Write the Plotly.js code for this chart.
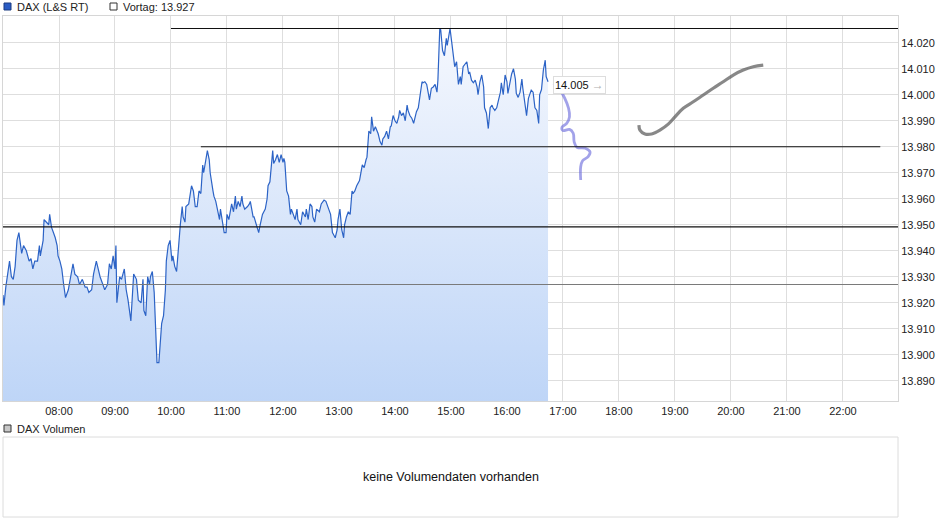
<!DOCTYPE html>
<html>
<head>
<meta charset="utf-8">
<script src="https://cdn.plot.ly/plotly-3.0.1.min.js"></script>
<style>
html,body{margin:0;padding:0;background:#fff;}
#chart{width:940px;height:526px;}
</style>
</head>
<body>
<div id="chart"></div>
<script>
// ---- data (minutes after 07:00, index points) ----
const priceMinutes = [0,1,3,6,7,9,11,13,15,17,20,22,25,28,30,32,34,37,39,40,43,44,47,49,50,52,54,56,58,59,61,63,65,67,70,73,75,77,80,82,85,88,90,92,95,97,100,102,104,107,109,112,114,116,118,120,121,122,125,127,130,132,134,137,139,140,143,145,148,150,151,153,155,157,158,160,162,164,165,167,168,170,172,174,175,177,179,181,182,184,186,188,190,192,193,195,196,199,202,204,206,208,210,212,214,215,217,219,221,222,225,226,228,230,232,233,235,237,239,240,242,245,247,249,250,252,254,256,257,259,262,264,265,268,269,271,274,275,278,281,283,284,286,289,290,292,294,296,298,300,301,302,304,306,308,309,311,313,315,316,319,321,324,325,327,329,331,332,334,336,339,341,344,346,349,351,353,356,358,359,361,363,365,366,368,370,372,374,375,377,379,381,382,385,387,389,390,392,394,395,397,399,400,402,404,406,407,409,411,413,415,416,418,420,422,424,425,427,429,431,433,434,436,438,440,441,443,445,447,449,450,452,454,456,457,459,461,463,465,466,468,469,471,473,475,476,479,481,482,484,486,488,490,491,493,495,497,499,500,502,504,506,508,509,511,513,515,516,518,520,522,524,525,527,529,531,533,534,536,538,540,541,543,545,547,549,550,552,554,556,557,559,561,563,565,566,568,570,572,574,575,577,579,581,582,584];
const priceValues = [13923,13919,13926,13934,13936,13930,13929,13934,13944,13947,13939,13942,13940,13936,13937,13933,13936,13936,13942,13938,13944,13952,13951,13950,13954,13949,13947,13945,13942,13938,13936,13933,13927,13922,13925,13932,13935,13931,13930,13927,13929,13926,13926,13924,13925,13931,13936,13933,13930,13927,13925,13927,13935,13933,13938,13933,13942,13920,13930,13929,13933,13925,13921,13913,13925,13931,13929,13921,13920,13929,13917,13915,13930,13927,13930,13932,13924,13908,13897,13897,13901,13912,13915,13925,13936,13942,13944,13936,13938,13934,13932,13942,13950,13957,13953,13951,13957,13958,13965,13963,13957,13957,13963,13962,13973,13970,13974,13978.5,13975,13970,13963,13961,13959,13955,13952,13956,13950.5,13947,13947,13954,13952,13958,13955,13961,13956,13959,13957,13961,13958,13956,13957,13958,13959,13953,13953,13950.5,13947,13949,13954,13956,13960,13965,13966.5,13978.5,13973.6,13975,13977,13974,13977,13974,13975.5,13974,13963,13961,13954,13956,13954,13952,13956,13952,13950,13955,13953,13956,13952,13958,13957,13953,13951,13956,13955,13958,13959.5,13959,13956,13954,13947,13945,13948,13952,13956,13948,13945,13950,13953,13955,13954,13963,13962,13963,13965,13966.5,13967,13973,13972,13975,13976,13986,13985,13991.5,13986,13987.7,13987,13985,13982,13980.6,13983,13984,13986,13983,13987.7,13988,13992,13990,13989,13991.5,13994,13992,13993,13990,13996,13994,13992,13991,13989,13991,13993.5,13995,14000,14005,14004.6,14005,14004,14000,13998,14002.5,14003,14004,14001,14005.6,14025.5,14025,14017,14015,14021.7,14019,14025.5,14019.7,14017,14010.8,14012.7,14004,14007,14004,14010.8,14012,14012.7,14008,14008.8,14005.6,14004.6,14005.6,14003,14000,14005,14007.6,14003,13995,13993,13987,13995,13996,13995,13994,13995,13998,14001,14004.6,14000,14007.6,14005,14000.5,14004,14008,14010,14006,14000.5,13999,14001,14006,14002.5,13996.7,13992,13998.6,14001,14001.8,14001,13995,13994,13989,14000,14002,14009.5,14013.3,14007,14005];

// hand-drawn annotation strokes
const blueStrokeMinutes = [590,597,602,606,607,604,599,600,607,611,612,615,624,629,627,621,619,619];
const blueStrokeValues  = [14004.4,14001.8,13998.6,13994.8,13991.5,13989,13987.5,13986.2,13986.7,13985.2,13981.9,13979.8,13979.4,13978,13976.2,13974.6,13972.3,13967.2];
const grayStrokeMinutes = [681.4,682.5,687.9,695,703.9,712.8,720,728.9,739.6,750.3,761,771.7,782.5,793.2,803.9,814.6];
const grayStrokeValues  = [13988.3,13986.4,13984.9,13984.9,13986.4,13988.7,13991.5,13994.8,13997.3,13999.9,14002.5,14005,14007.6,14009.5,14010.8,14011.4];

// horizontal levels: [startMinute, endMinute, value]
const levelStarts = [180, 212, 0];
const levelEnds   = [960, 940, 960];
const levelValues = [14025.5, 13980, 13949.2];
const prevClose = 13927;
const lastPrice = 14005;

const xTickLabels = ["08:00","09:00","10:00","11:00","12:00","13:00","14:00","15:00","16:00","17:00","18:00","19:00","20:00","21:00","22:00"];
const yTickValues = [13890,13900,13910,13920,13930,13940,13950,13960,13970,13980,13990,14000,14010,14020];

// ---- helpers ----
const DAY = "2021-01-12 ";
function pad(n){return (n<10?"0":"")+n;}
function t(m){
  const s = Math.round(m*60);
  const h = 7 + Math.floor(s/3600);
  const mi = Math.floor((s%3600)/60);
  const se = s%60;
  return DAY + pad(h)+":"+pad(mi)+":"+pad(se);
}
const W=940,H=526,L=3,R=42,T=16,B=9;
const PW=W-L-R, PH=H-T-B;
function px(x){return (x-L)/PW;}
function py(y){return (H-B-y)/PH;}

const FONT = "Liberation Sans, Arial, sans-serif";
const yMin = 13882.2, yMax = 14030.3;

const traces = [
  {
    x: priceMinutes.map(t), y: priceValues,
    type:'scatter', mode:'lines',
    line:{color:'#2c63c6', width:1.2},
    fill:'tozeroy',
    fillgradient:{type:'vertical', start:yMin, stop:yMax,
      colorscale:[[0,'#bed5f7'],[1,'#f7f9fe']]},
    hoverinfo:'skip', showlegend:false
  },
  {
    x: blueStrokeMinutes.map(t), y: blueStrokeValues,
    type:'scatter', mode:'lines',
    line:{color:'rgba(105,105,220,0.62)', width:2.8, shape:'spline'},
    hoverinfo:'skip', showlegend:false
  },
  {
    x: grayStrokeMinutes.map(t), y: grayStrokeValues,
    type:'scatter', mode:'lines',
    line:{color:'rgba(85,85,85,0.7)', width:3.2, shape:'spline'},
    hoverinfo:'skip', showlegend:false
  }
];

const shapes = [];
for(let i=0;i<levelValues.length;i++){
  shapes.push({type:'line', xref:'x', yref:'y',
    x0:t(levelStarts[i]), x1:t(levelEnds[i]), y0:levelValues[i], y1:levelValues[i],
    line:{color:'#111', width:1.1}});
}
shapes.push({type:'line', xref:'x', yref:'y', x0:t(0), x1:t(960), y0:prevClose, y1:prevClose,
  line:{color:'#7a7a7a', width:1.1}});
// legend squares
shapes.push({type:'rect', xref:'paper', yref:'paper', x0:px(4), x1:px(11), y0:py(10), y1:py(3),
  fillcolor:'#2a5cc4', line:{color:'#1a3a80', width:1}});
shapes.push({type:'rect', xref:'paper', yref:'paper', x0:px(110), x1:px(117), y0:py(10), y1:py(3),
  fillcolor:'#ffffff', line:{color:'#333', width:1}});
shapes.push({type:'rect', xref:'paper', yref:'paper', x0:px(4), x1:px(11), y0:py(432), y1:py(425),
  fillcolor:'#c8c8c8', line:{color:'#333', width:1}});
// volume panel box
shapes.push({type:'rect', xref:'paper', yref:'paper', x0:0, x1:1, y0:py(517), y1:py(437),
  fillcolor:'rgba(0,0,0,0)', line:{color:'#dcdcdc', width:1}});

const annotations = [
  {xref:'paper', yref:'paper', x:px(15), y:py(6.5), xanchor:'left', yanchor:'middle',
   text:'DAX (L&amp;S RT)', showarrow:false, font:{family:FONT, size:11, color:'#222'}},
  {xref:'paper', yref:'paper', x:px(121), y:py(6.5), xanchor:'left', yanchor:'middle',
   text:'Vortag: 13.927', showarrow:false, font:{family:FONT, size:11, color:'#222'}},
  {xref:'paper', yref:'paper', x:px(15), y:py(428.5), xanchor:'left', yanchor:'middle',
   text:'DAX Volumen', showarrow:false, font:{family:FONT, size:11, color:'#222'}},
  {xref:'paper', yref:'paper', x:0.5, y:py(477), xanchor:'center', yanchor:'middle',
   text:'keine Volumendaten vorhanden', showarrow:false, font:{family:FONT, size:12.5, color:'#111'}},
  {xref:'x', yref:'y', x:t(priceMinutes[priceMinutes.length-1]), y:lastPrice,
   xanchor:'left', yanchor:'middle', xshift:5, yshift:-3,
   text:'14.005 <span style="color:#b0b0b0;font-weight:bold;font-size:12px">→</span>', showarrow:false,
   bgcolor:'#ffffff', bordercolor:'#dddddd', borderwidth:1, borderpad:1,
   font:{family:FONT, size:11, color:'#111'}}
];

const layout = {
  width:W, height:H,
  margin:{l:L, r:R, t:T, b:B, pad:0},
  paper_bgcolor:'#ffffff', plot_bgcolor:'#ffffff',
  separators:',.',
  font:{family:FONT, size:11, color:'#222'},
  showlegend:false,
  xaxis:{
    type:'date', range:[t(0), t(959)],
    tickvals:xTickLabels.map(s=>DAY+s+":00"), ticktext:xTickLabels,
    showgrid:true, gridcolor:'#dedede', gridwidth:1,
    showline:true, linecolor:'#d6d6d6', mirror:true,
    ticks:'', zeroline:false,
    tickfont:{family:FONT, size:11, color:'#222'},
    fixedrange:true
  },
  yaxis:{
    domain:[py(401), 1],
    range:[yMin, yMax], side:'right',
    tickvals:yTickValues, tickformat:',d',
    showgrid:true, gridcolor:'#dedede', gridwidth:1,
    showline:true, linecolor:'#d6d6d6', mirror:true,
    ticks:'', zeroline:false,
    tickfont:{family:FONT, size:11, color:'#222'},
    fixedrange:true
  },
  shapes:shapes,
  annotations:annotations
};

Plotly.newPlot('chart', traces, layout, {staticPlot:true, displayModeBar:false});
</script>
</body>
</html>
